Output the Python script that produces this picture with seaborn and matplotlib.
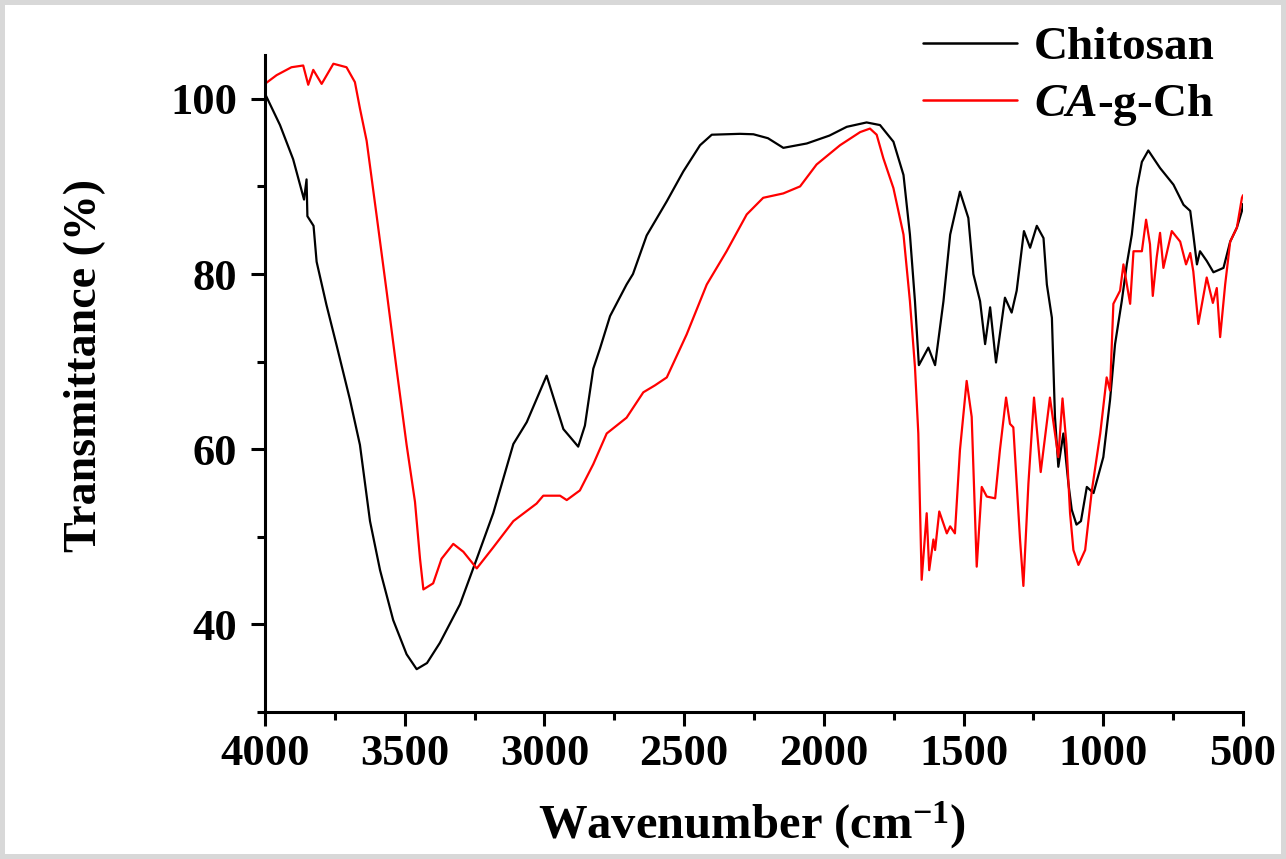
import numpy as np
import pandas as pd
import seaborn as sns
import matplotlib.pyplot as plt
from matplotlib.ticker import MultipleLocator
from matplotlib.lines import Line2D

# FTIR spectra (wavenumber cm-1, transmittance %)
chitosan_x = [4000, 3946, 3899, 3860, 3851, 3848, 3826, 3815, 3780, 3743, 3696, 3660,
              3624, 3588, 3541, 3493, 3457, 3420, 3374, 3302, 3242, 3183, 3111, 3063,
              2992, 2932, 2908, 2879, 2855, 2825, 2801, 2765, 2706, 2683, 2634, 2562,
              2503, 2443, 2401, 2300, 2252, 2200, 2145, 2061, 1980, 1918, 1847, 1799,
              1751, 1715, 1692, 1674, 1660, 1626, 1602, 1572, 1548, 1513, 1483, 1465,
              1441, 1423, 1405, 1384, 1352, 1328, 1310, 1284, 1262, 1238, 1214, 1202,
              1184, 1173, 1161, 1143, 1125, 1113, 1096, 1080, 1059, 1035, 1000, 976,
              958, 934, 916, 898, 880, 862, 839, 797, 749, 713, 689, 678, 665, 654,
              630, 606, 570, 546, 522, 504, 500]
chitosan_y = [100.6, 97.0, 93.1, 88.5, 90.8, 86.6, 85.5, 81.4, 76.5, 71.8, 65.7, 60.5,
              51.8, 46.2, 40.5, 36.6, 34.9, 35.6, 37.9, 42.3, 47.5, 52.7, 60.6, 63.1,
              68.4, 62.3, 61.4, 60.3, 62.7, 69.2, 71.5, 75.2, 78.8, 80.0, 84.4, 88.3,
              91.7, 94.7, 95.9, 96.0, 95.95, 95.5, 94.4, 94.9, 95.8, 96.8, 97.3, 97.0,
              95.1, 91.3, 84.5, 76.9, 69.6, 71.6, 69.6, 76.9, 84.5, 89.4, 86.4, 80.0,
              76.9, 72.0, 76.2, 69.9, 77.3, 75.6, 78.1, 84.9, 83.0, 85.5, 84.1, 78.8,
              75.0, 63.7, 58.0, 61.8, 56.1, 53.1, 51.4, 51.8, 55.7, 55.0, 59.1, 65.6,
              72.0, 76.9, 81.1, 84.5, 89.8, 92.8, 94.1, 92.1, 90.2, 87.9, 87.2, 84.5,
              81.1, 82.6, 81.5, 80.2, 80.7, 83.7, 85.3, 87.2, 88.0]

grafted_x = [4000, 3958, 3905, 3863, 3845, 3827, 3797, 3755, 3708, 3678, 3660, 3636,
             3600, 3564, 3529, 3493, 3463, 3445, 3433, 3398, 3368, 3326, 3290, 3242,
             3183, 3111, 3028, 3004, 2944, 2920, 2873, 2825, 2777, 2706, 2646, 2604,
             2562, 2491, 2419, 2348, 2276, 2217, 2145, 2085, 2026, 1942, 1870, 1835,
             1811, 1787, 1751, 1715, 1692, 1674, 1662, 1650, 1632, 1623, 1608, 1602,
             1587, 1560, 1548, 1531, 1513, 1489, 1471, 1453, 1435, 1417, 1387, 1370,
             1348, 1334, 1322, 1298, 1286, 1268, 1248, 1224, 1191, 1161, 1146, 1132,
             1119, 1107, 1089, 1065, 1041, 1011, 988, 976, 964, 940, 928, 904, 892,
             862, 847, 833, 823, 809, 797, 785, 755, 725, 704, 689, 678, 660, 630,
             608, 594, 582, 564, 546, 522, 504, 500]
grafted_y = [101.7, 102.7, 103.6, 103.8, 101.6, 103.3, 101.7, 104.0, 103.6, 101.9, 98.9, 95.2,
             86.6, 77.9, 69.2, 60.5, 54.0, 47.5, 44.0, 44.7, 47.5, 49.2, 48.3, 46.4,
             48.8, 51.8, 53.8, 54.7, 54.7, 54.2, 55.3, 58.3, 61.8, 63.6, 66.5, 67.3,
             68.2, 73.1, 78.8, 82.6, 86.8, 88.7, 89.2, 90.0, 92.5, 94.7, 96.2, 96.6,
             95.9, 93.2, 89.8, 84.5, 76.9, 69.4, 61.8, 45.1, 52.7, 46.2, 49.7, 48.5,
             52.9, 50.4, 51.2, 50.4, 59.9, 67.8, 63.7, 46.6, 55.7, 54.6, 54.4, 59.9,
             65.9, 62.9, 62.5, 49.7, 44.4, 56.1, 65.9, 57.4, 65.9, 59.1, 65.8, 60.6,
             52.7, 48.5, 46.8, 48.5, 55.3, 61.8, 68.2, 66.7, 76.6, 78.1, 81.1, 76.6, 82.6,
             82.6, 86.2, 83.4, 77.5, 81.9, 84.7, 80.7, 84.9, 83.7, 81.1, 82.4, 80.3, 74.3, 79.6,
             76.7, 78.4, 72.8, 78.8, 83.7, 85.3, 88.7, 89.0]

series_names = ["Chitosan", "CA-g-Ch"]
series_colors = ["black", "red"]

df = pd.concat([
    pd.DataFrame({"wavenumber": chitosan_x, "T": chitosan_y, "sample": series_names[0]}),
    pd.DataFrame({"wavenumber": grafted_x, "T": grafted_y, "sample": series_names[1]}),
], ignore_index=True)

sns.set_style("ticks")
plt.rcParams["font.family"] = ["Liberation Serif", "DejaVu Serif"]
plt.rcParams["font.weight"] = "bold"
plt.rcParams["mathtext.fontset"] = "custom"
plt.rcParams["mathtext.rm"] = "Liberation Serif:bold"
plt.rcParams["mathtext.bf"] = "Liberation Serif:bold"
plt.rcParams["mathtext.it"] = "Liberation Serif:bold:italic"
for k in ["text.color", "axes.labelcolor", "xtick.color", "ytick.color", "axes.edgecolor"]:
    plt.rcParams[k] = "black"

fig = plt.figure(figsize=(12.86, 8.59), dpi=100)
ax = fig.add_axes([0.206, 0.171, 0.7606, 0.765])

sns.lineplot(data=df, x="wavenumber", y="T", hue="sample", sort=False,
             estimator=None, palette=dict(zip(series_names, series_colors)),
             linewidth=1.6, legend=False, ax=ax)

ax.set_xlim(4000, 500)
ax.set_ylim(30, 105)
ax.xaxis.set_major_locator(MultipleLocator(500))
ax.xaxis.set_minor_locator(MultipleLocator(250))
ax.yaxis.set_minor_locator(MultipleLocator(10))
ax.set_yticks([40, 60, 80, 100])

sns.despine(ax=ax)
for s in ["left", "bottom"]:
    ax.spines[s].set_linewidth(2.2)
ax.tick_params(which="major", length=10, width=2.2, labelsize=32)
ax.tick_params(axis="x", which="major", pad=6)
ax.tick_params(axis="y", which="major", pad=10)
ax.tick_params(which="minor", length=6, width=2.2)
for lab in ax.get_xticklabels() + ax.get_yticklabels():
    lab.set_fontweight("bold")

ax.set_xlabel(r"Wavenumber (cm$^{-1}$)", fontsize=35, fontweight="bold")
ax.set_ylabel("Transmittance (%)", fontsize=33, fontweight="bold")
ax.xaxis.set_label_coords(0.498, -0.172, transform=ax.transAxes)
ax.xaxis.label.set_va("center")
ax.yaxis.set_label_coords(-0.184, 0.527, transform=ax.transAxes)
ax.yaxis.label.set_va("center")

handles = [Line2D([], [], color=c, linewidth=1.8) for c in series_colors]
labels = ["Chitosan", r"$\mathit{CA}$-g-Ch"]
leg = ax.legend(handles, labels, loc="upper right", bbox_to_anchor=(1.0, 1.087),
                frameon=False, prop={"size": 34, "weight": "bold"},
                handlelength=2.0, handletextpad=0.35, labelspacing=0.28, borderaxespad=0.2)

fig.patch.set_edgecolor("#d8d8d8")
fig.patch.set_linewidth(6)

fig.savefig("out.png", dpi=100, edgecolor=fig.get_edgecolor())
